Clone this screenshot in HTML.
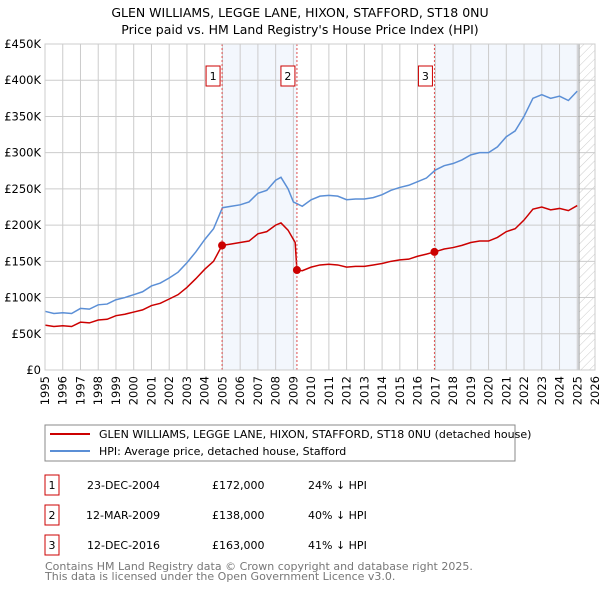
<!DOCTYPE html>
<html><head><meta charset="utf-8"><style>
body{margin:0;background:#fff;font-family:"Liberation Sans","DejaVu Sans",sans-serif;}
svg text{font-family:"DejaVu Sans","Liberation Sans",sans-serif;}
</style></head><body>
<svg id="c" width="600" height="590" xmlns="http://www.w3.org/2000/svg">
<defs><pattern id="hatch" width="6" height="6" patternUnits="userSpaceOnUse" patternTransform="rotate(45)"><line x1="0" y1="0" x2="0" y2="6" stroke="#ccc" stroke-width="1"/></pattern></defs>
<text x="300" y="17" text-anchor="middle" font-size="12.5" fill="#000">GLEN WILLIAMS, LEGGE LANE, HIXON, STAFFORD, ST18 0NU</text>
<text x="300" y="34" text-anchor="middle" font-size="12.5" fill="#000">Price paid vs. HM Land Registry's House Price Index (HPI)</text>
<g id="grid"></g><g id="marks"></g><g id="axes"></g>
<rect x="45" y="425" width="470" height="36" fill="#fff" stroke="#888"/>
<line x1="50" y1="434" x2="90" y2="434" stroke="#cc0000" stroke-width="2"/>
<text x="99" y="438" font-size="11">GLEN WILLIAMS, LEGGE LANE, HIXON, STAFFORD, ST18 0NU (detached house)</text>
<line x1="50" y1="451" x2="90" y2="451" stroke="#5b8fd6" stroke-width="2"/>
<text x="99" y="455" font-size="11">HPI: Average price, detached house, Stafford</text>
<g font-size="11" fill="#000">
<rect x="45" y="475" width="14" height="20" fill="#fff" stroke="#cc0000"/><text x="52" y="489" text-anchor="middle">1</text>
<text x="87" y="489">23-DEC-2004</text><text x="212" y="489">£172,000</text><text x="308" y="489">24% ↓ HPI</text>
<rect x="45" y="505" width="14" height="20" fill="#fff" stroke="#cc0000"/><text x="52" y="519" text-anchor="middle">2</text>
<text x="86" y="519">12-MAR-2009</text><text x="212" y="519">£138,000</text><text x="308" y="519">40% ↓ HPI</text>
<rect x="45" y="535" width="14" height="20" fill="#fff" stroke="#cc0000"/><text x="52" y="549" text-anchor="middle">3</text>
<text x="87" y="549">12-DEC-2016</text><text x="212" y="549">£163,000</text><text x="308" y="549">41% ↓ HPI</text>
</g>
<text x="45" y="570" font-size="11" fill="#777">Contains HM Land Registry data © Crown copyright and database right 2025.</text>
<text x="45" y="580" font-size="11" fill="#777">This data is licensed under the Open Government Licence v3.0.</text>
</svg>
<script>
const hpiDates=[1995,1995.5,1996,1996.5,1997,1997.5,1998,1998.5,1999,1999.5,2000,2000.5,2001,2001.5,2002,2002.5,2003,2003.5,2004,2004.5,2005,2005.5,2006,2006.5,2007,2007.5,2008,2008.3,2008.7,2009,2009.5,2010,2010.5,2011,2011.5,2012,2012.5,2013,2013.5,2014,2014.5,2015,2015.5,2016,2016.5,2017,2017.5,2018,2018.5,2019,2019.5,2020,2020.5,2021,2021.5,2022,2022.5,2023,2023.5,2024,2024.5,2025];
const hpiValues=[81,78,79,78,85,84,90,91,97,100,104,108,116,120,127,135,148,163,180,195,224,226,228,232,244,248,262,266,250,232,226,235,240,241,240,235,236,236,238,242,248,252,255,260,265,276,282,285,290,297,300,300,308,322,330,350,375,380,375,378,372,385];
const propDates=[1995,1995.5,1996,1996.5,1997,1997.5,1998,1998.5,1999,1999.5,2000,2000.5,2001,2001.5,2002,2002.5,2003,2003.5,2004,2004.5,2004.98,2005.5,2006,2006.5,2007,2007.5,2008,2008.3,2008.7,2009.1,2009.2,2009.5,2010,2010.5,2011,2011.5,2012,2012.5,2013,2013.5,2014,2014.5,2015,2015.5,2016,2016.5,2016.95,2017.5,2018,2018.5,2019,2019.5,2020,2020.5,2021,2021.5,2022,2022.5,2023,2023.5,2024,2024.5,2025];
const propValues=[62,60,61,60,66,65,69,70,75,77,80,83,89,92,98,104,114,126,139,150,172,174,176,178,188,191,200,203,193,176,138,137,142,145,146,145,142,143,143,145,147,150,152,153,157,160,163,167,169,172,176,178,178,183,191,195,207,222,225,221,223,220,227];
const saleDates=[2004.98,2009.2,2016.95];
const salePrices=[172,138,163];
const saleLabels=["1","2","3"];
const yTicks=[0,50,100,150,200,250,300,350,400,450];
const yTickLabels=["£0","£50K","£100K","£150K","£200K","£250K","£300K","£350K","£400K","£450K"];
const xYears=[1995,1996,1997,1998,1999,2000,2001,2002,2003,2004,2005,2006,2007,2008,2009,2010,2011,2012,2013,2014,2015,2016,2017,2018,2019,2020,2021,2022,2023,2024,2025,2026];
const dataEnd=2025.1;
const NS="http://www.w3.org/2000/svg";
const X0=45,X1=595,Y0=370,Y1=44;
const x=t=>X0+(t-1995)/(2026-1995)*(X1-X0);
const y=v=>Y0-v/450*(Y0-Y1);
function mk(p,tag,at){const e=document.createElementNS(NS,tag);for(const k in at)e.setAttribute(k,at[k]);p.appendChild(e);return e;}
const grid=document.getElementById('grid'),marks=document.getElementById('marks'),axes=document.getElementById('axes');
for(let i=0;i<saleDates.length;i++){
  if(i===1)continue;
  const end=i+1<saleDates.length?saleDates[i+1]:dataEnd;
  const r=mk(grid,'rect',{x:x(saleDates[i]),y:Y1,width:x(end)-x(saleDates[i]),height:Y0-Y1,fill:'#f2f6fd',opacity:0.9});
  
  
}
const hr=mk(grid,'rect',{x:x(dataEnd),y:Y1,width:X1-x(dataEnd),height:Y0-Y1,fill:'url(#hatch)'});


yTicks.forEach((v,i)=>{
  const l=mk(grid,'line',{x1:X0,x2:X1,y1:y(v),y2:y(v),stroke:'#ccc','stroke-width':1});
  
  
  const t=mk(axes,'text',{x:X0-4,y:y(v)+4,'text-anchor':'end','font-size':11.5});
  t.textContent=yTickLabels[i];
  
  
});
xYears.forEach(yr=>{
  const l=mk(grid,'line',{x1:x(yr),x2:x(yr),y1:Y1,y2:Y0,stroke:'#ccc','stroke-width':1});
  
  
  const t=mk(axes,'text',{x:0,y:0,'font-size':11.5,transform:`translate(${x(yr)+4},${Y0+6}) rotate(-90)`,'text-anchor':'end'});
  t.textContent=yr;
  
  
});
const dl=mk(grid,'line',{x1:x(dataEnd),x2:x(dataEnd),y1:Y1,y2:Y0,stroke:'#999','stroke-width':1});


const hp=mk(marks,'polyline',{points:hpiDates.map((d,i)=>x(d)+','+y(hpiValues[i])).join(' '),fill:'none',stroke:'#5b8fd6','stroke-width':1.5});


const pp=mk(marks,'polyline',{points:propDates.map((d,i)=>x(d)+','+y(propValues[i])).join(' '),fill:'none',stroke:'#cc0000','stroke-width':1.5});


saleDates.forEach((d,i)=>{
  const l=mk(marks,'line',{x1:x(d),x2:x(d),y1:Y1,y2:Y0,stroke:'#e05050','stroke-width':1,'stroke-dasharray':'2,2'});
  
  
  const c=mk(marks,'circle',{cx:x(d),cy:y(salePrices[i]),r:4,fill:'#cc0000'});
  
  
  const b=mk(marks,'rect',{x:x(d)-16,y:66,width:14,height:20,fill:'#fff',stroke:'#cc0000'});
  
  
  const t=mk(marks,'text',{x:x(d)-9,y:80,'text-anchor':'middle','font-size':11});
  t.textContent=saleLabels[i];
  
  
});
const fr=mk(axes,'rect',{x:X0,y:Y1,width:X1-X0,height:Y0-Y1,fill:'none',stroke:'#ccc'});


</script>
</body></html>
